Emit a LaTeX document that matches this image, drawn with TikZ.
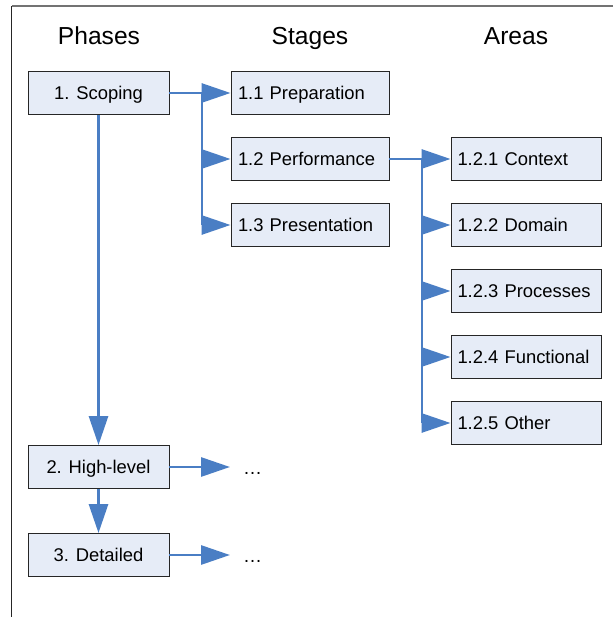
\documentclass[tikz,border=0pt]{standalone}
\usepackage{fontspec}
\setmainfont{Liberation Sans}
\usepackage{xcolor}
\usetikzlibrary{arrows.meta}

\definecolor{flowblue}{HTML}{4A7EC4}
\definecolor{boxfill}{HTML}{E6ECF7}

\tikzset{
  phasebox/.style={draw=black!85, fill=boxfill, line width=0.9pt, minimum width=141pt, minimum height=43pt, inner sep=0pt, text height=13.2pt, text depth=0pt, font=\fontsize{18.4}{20}\selectfont},
  stagebox/.style={phasebox, minimum width=158pt, text width=144pt, align=left},
  areabox/.style={phasebox, minimum width=150pt, text width=137pt, align=left},
  header/.style={anchor=base, font=\fontsize{24.6}{27}\selectfont},
  bus/.style={draw=flowblue, line width=2.9pt},
  flow/.style={bus, -{Triangle[length=29pt,width=19pt]}},
  more/.style={font=\fontsize{19}{20}\selectfont, inner xsep=13pt, inner ysep=2pt}
}

\begin{document}
\begin{tikzpicture}[x=1pt,y=-1pt]
\useasboundingbox (0,0) rectangle (613,617);
% frame
\draw[black!55, line width=1.2pt] (613,6) -- (11.5,6);
\draw[black!85, line width=1pt] (11.5,6) -- (11.5,617);

% headers
\node[header] (phases) at (99,45) {Phases};
\node[header] (stages) at (310,45) {Stages};
\node[header] (areas) at (516,45) {Areas};

% phases
\node[phasebox] (scoping) at (98.5,93) {1. Scoping};
\node[phasebox] (high) at (98.5,467) {2. High-level};
\node[phasebox] (detailed) at (98.5,555) {3. Detailed};

% stages
\node[stagebox] (prep) at (310,93) {1.1 Preparation};
\node[stagebox] (perf) at (310,159) {1.2 Performance};
\node[stagebox] (pres) at (310,225) {1.3 Presentation};

% areas
\node[areabox] (context) at (526,159) {1.2.1 Context};
\node[areabox] (domain) at (526,225) {1.2.2 Domain};
\node[areabox] (processes) at (526,291) {1.2.3 Processes};
\node[areabox] (functional) at (526,357) {1.2.4 Functional};
\node[areabox] (other) at (526,423) {1.2.5 Other};

% dots
\node[more, anchor=base west] (more1) at (230,474) {…};
\node[more, anchor=base west] (more2) at (230,562) {…};

\coordinate (sbus) at (202,93);
\coordinate (abus) at (422,159);

% connectors
\draw[flow] (scoping.south) -- (high.north);
\draw[flow] (high.south) -- (detailed.north);
\draw[flow] (high.east) -- (high.east -| more1.west);
\draw[flow] (detailed.east) -- (detailed.east -| more2.west);

\draw[flow] (scoping.east) -- (prep.west);
\draw[bus] (sbus) -- (sbus |- pres.west);
\foreach \s in {perf,pres}
  \draw[flow] (sbus |- \s.west) -- (\s.west);

\draw[flow] (perf.east) -- (context.west);
\draw[bus] (abus) -- (abus |- other.west);
\foreach \a in {domain,processes,functional,other}
  \draw[flow] (abus |- \a.west) -- (\a.west);
\end{tikzpicture}
\end{document}
